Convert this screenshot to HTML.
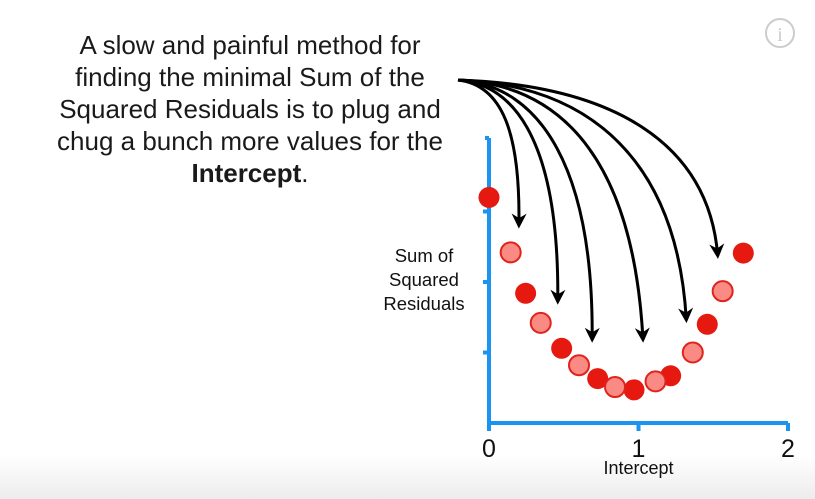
<!DOCTYPE html>
<html><head><meta charset="utf-8"><style>
html,body{margin:0;padding:0;background:#fff}
body{width:815px;height:499px;overflow:hidden;position:relative;font-family:"Liberation Sans",sans-serif}
#fade{position:absolute;left:0;top:455px;width:815px;height:44px;background:linear-gradient(#fff,#ececec)}
#caption{position:absolute;left:20px;top:29px;width:460px;text-align:center;font-size:26px;line-height:32px;color:#1a1a1a}
</style></head><body>
<div id="fade"></div>
<div id="caption">A slow and painful method for<br>finding the minimal Sum of the<br>Squared Residuals is to plug and<br>chug a bunch more values for the<br><b>Intercept</b>.</div>
<svg id="chart" width="815" height="499" style="position:absolute;left:0;top:0">
<defs><marker id="ah" viewBox="0 0 10 10" refX="8" refY="5" markerWidth="5" markerHeight="5" orient="auto"><path d="M0,0 L10,5 L0,10 L3,5 Z" fill="#000"/></marker></defs>
<g id="info"><circle cx="780" cy="33" r="14" fill="none" stroke="#ccc" stroke-width="2"/><text x="780" y="41" text-anchor="middle" font-size="20" fill="#ccc" font-family="Liberation Serif,serif">i</text></g>
<g id="axes"></g><g id="arrows"></g><g id="pts"></g>
</svg>
<script>
const darkX=[0,0.245,0.486,0.727,0.97,1.215,1.46,1.701];
const darkY=[3.2,1.84,1.06,0.63,0.47,0.67,1.40,2.41];
const lightX=[0.145,0.346,0.602,0.843,1.114,1.363,1.563];
const lightY=[2.42,1.42,0.82,0.51,0.59,1.0,1.87];
const xTicks=[0,1,2];
const yTicks=[1,2,3];
const arrowTargetX=[0.2,0.46,0.69,1.03,1.32,1.53];
const arrowTargetY=[2.8,1.72,1.18,1.18,1.46,2.37];
const sx=v=>489+v*149.5, sy=v=>423-v*70.5;
const NS='http://www.w3.org/2000/svg';
function mk(t,p,a){const e=document.createElementNS(NS,t);for(const k in a)e.setAttribute(k,a[k]);p.appendChild(e);return e;}
const ax=document.getElementById('axes');
let e=mk('path',ax,{d:`M${sx(0)},138 L${sx(0)},${sy(0)} L${sx(2)},${sy(0)}`,fill:'none',stroke:'#1a94f0','stroke-width':4});

mk('line',ax,{x1:sx(0),y1:138,x2:sx(0)-4,y2:138,stroke:'#1a94f0','stroke-width':4});
yTicks.forEach(v=>{const t=mk('line',ax,{x1:sx(0),y1:sy(v),x2:sx(0)-6,y2:sy(v),stroke:'#1a94f0','stroke-width':4});
});
xTicks.forEach(v=>{const t=mk('line',ax,{x1:sx(v),y1:sy(0),x2:sx(v),y2:sy(0)+8,stroke:'#1a94f0','stroke-width':4});

const l=mk('text',ax,{x:sx(v),y:457,'text-anchor':'middle','font-size':25,fill:'#111'});l.textContent=v;
});
let xt=mk('text',ax,{x:sx(1),y:474,'text-anchor':'middle','font-size':18,fill:'#111'});xt.textContent='Intercept';

['Sum of','Squared','Residuals'].forEach((s,i)=>{const t=mk('text',ax,{x:424,y:262+i*24,'text-anchor':'middle','font-size':18.5,fill:'#111'});t.textContent=s;
});
const ar=document.getElementById('arrows');
arrowTargetX.forEach((v,i)=>{const x=sx(v),y=sy(arrowTargetY[i]);const x0=458,y0=80;
const c1x=x0+(x-x0)*0.55+10,c1y=y0+5,c2x=x+ (i<3?5:-30)*0.3,c2y=y0+(y-y0)*0.35;
const p=mk('path',ar,{d:`M${x0},${y0} C${c1x},${c1y} ${c2x},${c2y} ${x},${y}`,fill:'none',stroke:'#000','stroke-width':3,'marker-end':'url(#ah)'});
});
const pg=document.getElementById('pts');
darkX.forEach((v,i)=>{const c=mk('circle',pg,{cx:sx(v),cy:sy(darkY[i]),r:10.5,fill:'#e5190f'});
});
lightX.forEach((v,i)=>{const c=mk('circle',pg,{cx:sx(v),cy:sy(lightY[i]),r:10,fill:'#f98a84',stroke:'#e0231b','stroke-width':2});
});
</script>
</body></html>
